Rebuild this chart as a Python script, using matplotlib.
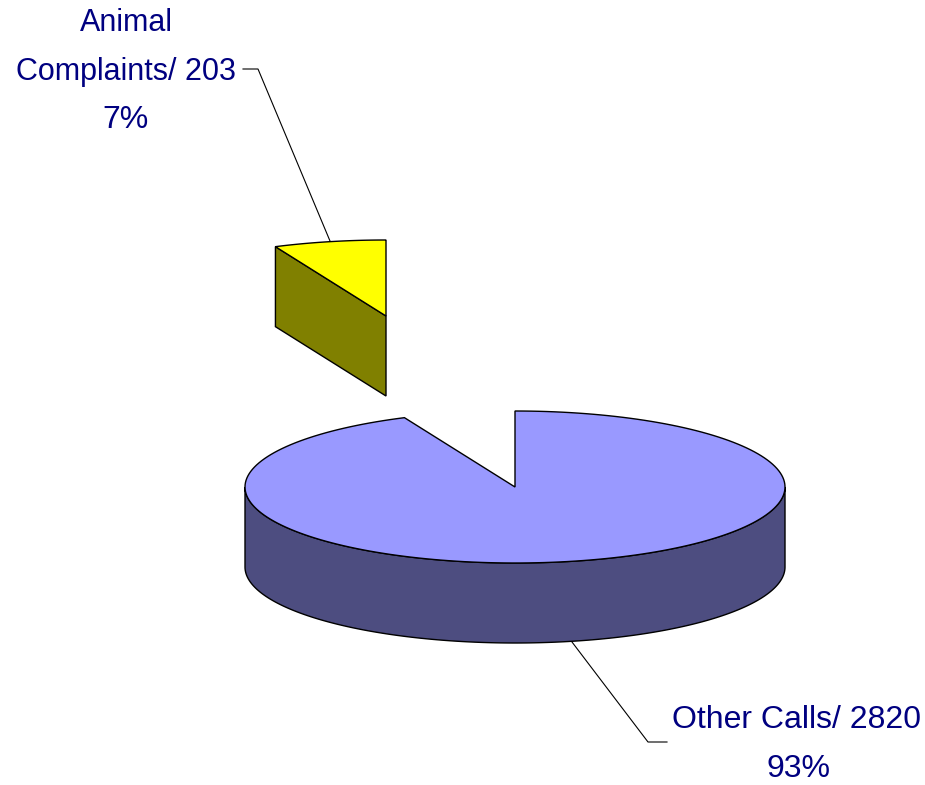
import numpy as np
import matplotlib
matplotlib.use('Agg')
import matplotlib.pyplot as plt

labels = ['Other Calls', 'Animal Complaints']
calls = [2820, 203]
percents = ['93%', '7%']

top_colors = ['#9999FF', '#FFFF00']
side_colors = ['#4D4D80', '#808000']
text_color = '#000080'

# pie geometry in pixels
cx, cy = 515, 487
rx, ry = 270, 76
depth = 80
explode = (-129, -171)


def rim(start, end, dx=0, dy=0):
    # angles in degrees, clockwise from the top of the pie
    t = np.radians(np.linspace(start, end, 200))
    return cx + dx + rx * np.sin(t), cy + dy - ry * np.cos(t)


fig = plt.figure(figsize=(9.25, 7.85), dpi=100)
ax = fig.add_axes([0, 0, 1, 1])
ax.set_xlim(0, 925)
ax.set_ylim(785, 0)
ax.axis('off')

split = 360 * calls[0] / sum(calls)

# big slice: side wall first, then the top
x, y = rim(90, 270)
ax.fill(np.r_[x, x[::-1]], np.r_[y, y[::-1] + depth],
        fc=side_colors[0], ec='black', lw=1.0)
x, y = rim(0, split)
ax.fill(np.r_[cx, x], np.r_[cy, y], fc=top_colors[0], ec='black', lw=1.0)

# small slice pulled out of the pie
dx, dy = explode
x, y = rim(split, 360, dx, dy)
wall_x = [x[0], cx + dx, cx + dx, x[0]]
wall_y = [y[0], cy + dy, cy + dy + depth, y[0] + depth]
ax.fill(wall_x, wall_y, fc=side_colors[1], ec='black', lw=1.0)
ax.fill(np.r_[cx + dx, x], np.r_[cy + dy, y], fc=top_colors[1], ec='black', lw=1.0)

# leader lines
ax.plot([243, 258, 330], [69, 69, 241], color='black', lw=0.8)
ax.plot([572, 648, 667], [642, 742, 742], color='black', lw=0.8)

font = dict(family='Liberation Sans', color=text_color, ha='center', va='center')
ax.text(126, 23, 'Animal', fontsize=22, **font)
ax.text(126, 72, f'Complaints/ {calls[1]}', fontsize=22, **font)
ax.text(126, 120, percents[1], fontsize=23, **font)
ax.text(796, 720, f'{labels[0]}/ {calls[0]}', fontsize=23, **font)
ax.text(798, 769, percents[0], fontsize=23, **font)

fig.savefig('out.png', dpi=100)
